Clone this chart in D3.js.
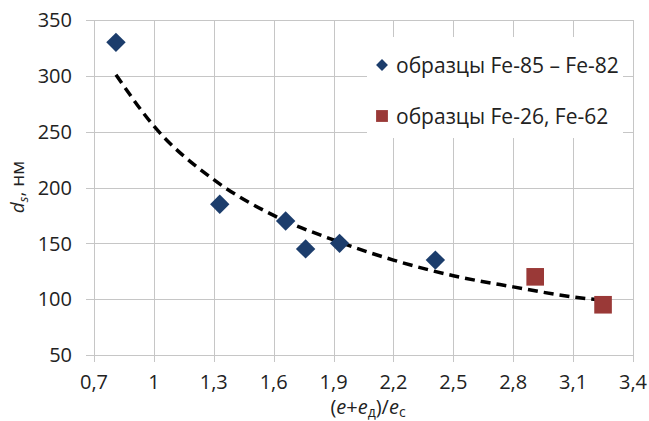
<!DOCTYPE html>
<html>
<head>
<meta charset="utf-8">
<script src="https://cdn.jsdelivr.net/npm/d3@7"></script>
<style>
  body { margin: 0; background: #fff; }
  svg { display: block; font-family: "Open Sans", sans-serif; }
</style>
</head>
<body>
<svg id="chart" width="649" height="421"></svg>
<script>
"use strict";
// series
const seriesA = [
    { x: 0.81, y: 330 },
    { x: 1.33, y: 185 },
    { x: 1.66, y: 170 },
    { x: 1.76, y: 145 },
    { x: 1.93, y: 150 },
    { x: 2.41, y: 135 }
];
const seriesB = [
    { x: 2.91, y: 120 },
    { x: 3.25, y: 95 }
];
// dashed trend line
const trend = [
    { x: 0.81, y: 301 }, { x: 1.0, y: 255 }, { x: 1.3, y: 207 },
    { x: 1.6, y: 175 }, { x: 1.9, y: 153 }, { x: 2.2, y: 135 },
    { x: 2.5, y: 121 }, { x: 2.8, y: 111 }, { x: 3.1, y: 102 },
    { x: 3.25, y: 99 }
];
const xTicks = [0.7, 1, 1.3, 1.6, 1.9, 2.2, 2.5, 2.8, 3.1, 3.4];
const yTicks = [50, 100, 150, 200, 250, 300, 350];
const legendLabels = ['образцы Fe-85 – Fe-82', 'образцы Fe-26, Fe-62'];

const svg = d3.select('#chart');
const width = +svg.attr('width');
const height = +svg.attr('height');
const margin = { top: 20, right: 16, bottom: 66, left: 94 };

const xScale = d3.scaleLinear().domain([0.7, 3.4]).range([margin.left, width - margin.right]);
const yScale = d3.scaleLinear().domain([50, 350]).range([height - margin.bottom, margin.top]);

const fmt = (d) => String(d).replace('.', ',');
const gridColor = '#c6c6c6';

// grid + tick marks
svg.append('g')
    .selectAll('line')
    .data(yTicks)
    .enter()
    .append('line')
    .attr('x1', margin.left - 8)
    .attr('x2', width - margin.right)
    .attr('y1', (d) => Math.round(yScale(d)) + 0.5)
    .attr('y2', (d) => Math.round(yScale(d)) + 0.5)
    .attr('stroke', gridColor);

svg.append('g')
    .selectAll('line')
    .data(xTicks)
    .enter()
    .append('line')
    .attr('x1', (d) => Math.round(xScale(d)) + 0.5)
    .attr('x2', (d) => Math.round(xScale(d)) + 0.5)
    .attr('y1', margin.top)
    .attr('y2', height - margin.bottom + 7)
    .attr('stroke', gridColor);

// tick labels
svg.append('g')
    .selectAll('text')
    .data(yTicks)
    .enter()
    .append('text')
    .attr('x', 72)
    .attr('y', (d) => yScale(d))
    .attr('dy', '0.36em')
    .attr('text-anchor', 'end')
    .attr('font-size', '20px')
    .attr('fill', '#222')
    .text((d) => d);

svg.append('g')
    .selectAll('text')
    .data(xTicks)
    .enter()
    .append('text')
    .attr('x', (d) => xScale(d))
    .attr('y', 389)
    .attr('text-anchor', 'middle')
    .attr('font-size', '20px')
    .attr('fill', '#222')
    .text(fmt);

// axis titles
const yTitle = svg.append('text')
    .attr('transform', 'translate(24,187) rotate(-90)')
    .attr('text-anchor', 'middle')
    .attr('font-size', '19px')
    .attr('fill', '#222');
yTitle.append('tspan').attr('font-style', 'italic').text('d');
yTitle.append('tspan').attr('font-style', 'italic').attr('font-size', '13px').attr('dy', 4).text('s');
yTitle.append('tspan').attr('dy', -4).text(', нм');

const xTitle = svg.append('text')
    .attr('x', 368)
    .attr('y', 414)
    .attr('text-anchor', 'middle')
    .attr('font-size', '20px')
    .attr('fill', '#222');
xTitle.append('tspan').text('(');
xTitle.append('tspan').attr('font-style', 'italic').text('e');
xTitle.append('tspan').text('+');
xTitle.append('tspan').attr('font-style', 'italic').text('e');
xTitle.append('tspan').attr('font-size', '14px').attr('dy', 3).text('д');
xTitle.append('tspan').attr('dy', -3).text(')/');
xTitle.append('tspan').attr('font-style', 'italic').text('e');
xTitle.append('tspan').attr('font-size', '14px').attr('dy', 3).text('с');

// trend line
const line = d3.line()
    .x((d) => xScale(d.x))
    .y((d) => yScale(d.y))
    .curve(d3.curveMonotoneX);
svg.append('path')
    .datum(trend)
    .attr('d', line)
    .attr('fill', 'none')
    .attr('stroke', '#000')
    .attr('stroke-width', 3.5)
    .attr('stroke-dasharray', '10,6');

const blue = '#1c3d6c';
const red = '#9a3937';
const diamond = d3.symbol().type(d3.symbolDiamond2).size(240);
const square = d3.symbol().type(d3.symbolSquare).size(310);

svg.append('g')
    .selectAll('path')
    .data(seriesA)
    .enter()
    .append('path')
    .attr('d', diamond)
    .attr('transform', (d) => `translate(${xScale(d.x)},${yScale(d.y)})`)
    .attr('fill', blue);

svg.append('g')
    .selectAll('path')
    .data(seriesB)
    .enter()
    .append('path')
    .attr('d', square)
    .attr('transform', (d) => `translate(${xScale(d.x)},${yScale(d.y)})`)
    .attr('fill', red);

// legend
const legend = svg.append('g');
legend.append('rect')
    .attr('x', 367).attr('y', 37)
    .attr('width', 256).attr('height', 101)
    .attr('fill', '#fff');
const legendMarks = [d3.symbol().type(d3.symbolDiamond2).size(90), d3.symbol().type(d3.symbolSquare).size(140)];
const legendColors = [blue, red];
const items = legend.selectAll('g.item')
    .data(legendLabels)
    .enter()
    .append('g')
    .attr('transform', (d, i) => `translate(382,${65 + i * 51})`);
items.append('path')
    .attr('d', (d, i) => legendMarks[i]())
    .attr('fill', (d, i) => legendColors[i]);
items.append('text')
    .attr('x', 14)
    .attr('dy', '0.36em')
    .attr('font-size', '21px')
    .attr('fill', '#222')
    .text((d) => d);
</script>
</body>
</html>
